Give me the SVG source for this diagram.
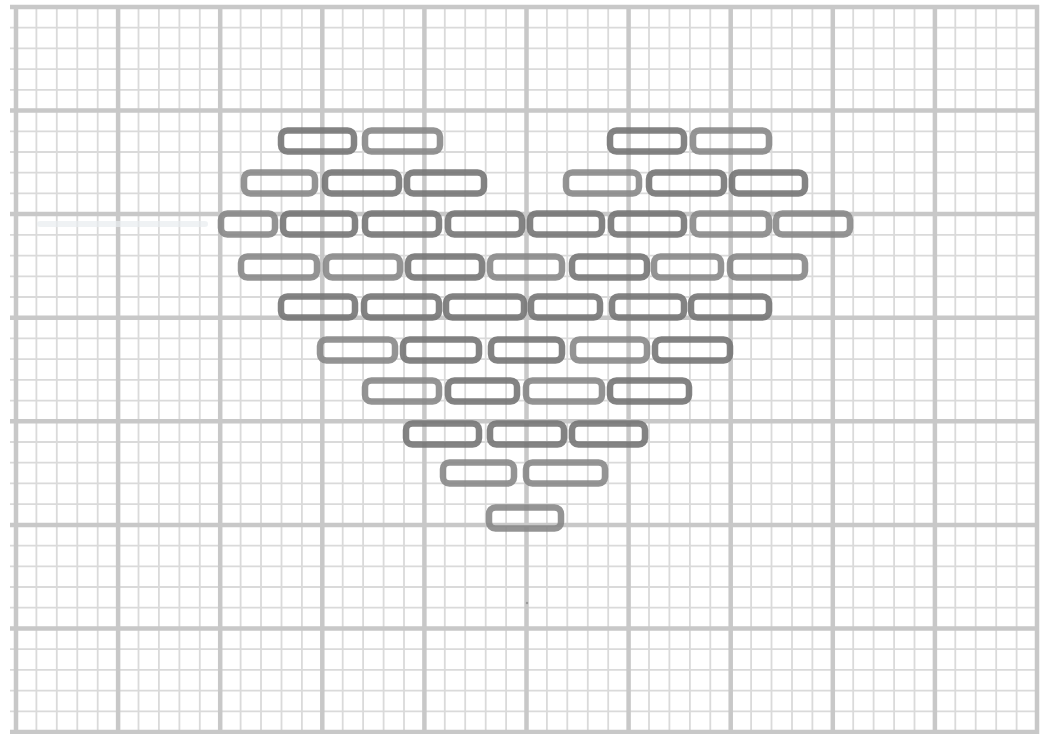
<svg xmlns="http://www.w3.org/2000/svg" width="1046" height="734" viewBox="0 0 1046 734">
<style>
.minor{fill:none;stroke:#dadada;stroke-width:1.8}
.major{fill:none;stroke:#c8c8c8;stroke-width:4.5}
.st{fill:none;stroke:#727272;stroke-width:6.5;stroke-opacity:0.88}
.st2{fill:none;stroke:#858585;stroke-width:6.5;stroke-opacity:0.88}
</style>
<rect width="1046" height="734" fill="#ffffff"/>
<g id="grid">
<path class="minor" d="M36.4 5V734M56.8 5V734M77.3 5V734M97.7 5V734M138.5 5V734M158.9 5V734M179.4 5V734M199.8 5V734M240.6 5V734M261 5V734M281.5 5V734M301.9 5V734M342.7 5V734M363.1 5V734M383.6 5V734M404 5V734M444.8 5V734M465.2 5V734M485.7 5V734M506.1 5V734M546.9 5V734M567.3 5V734M587.8 5V734M608.2 5V734M649 5V734M669.4 5V734M689.9 5V734M710.3 5V734M751.1 5V734M771.5 5V734M792 5V734M812.4 5V734M853.2 5V734M873.6 5V734M894.1 5V734M914.5 5V734M955.3 5V734M975.7 5V734M996.2 5V734M1016.6 5V734
M10 27.7H1039M10 48.4H1039M10 69.1H1039M10 89.9H1039M10 131.3H1039M10 152H1039M10 172.7H1039M10 193.4H1039M10 234.9H1039M10 255.6H1039M10 276.3H1039M10 297H1039M10 338.4H1039M10 359.1H1039M10 379.9H1039M10 400.6H1039M10 442H1039M10 462.7H1039M10 483.4H1039M10 504.1H1039M10 545.6H1039M10 566.3H1039M10 587H1039M10 607.7H1039M10 649.1H1039M10 669.9H1039M10 690.6H1039M10 711.3H1039"/>
<path class="major" d="M16 5V734M118.1 5V734M220.2 5V734M322.3 5V734M424.4 5V734M526.5 5V734M628.6 5V734M730.7 5V734M832.8 5V734M934.9 5V734M1037 5V734
M10 7H1039M10 110.6H1039M10 214.1H1039M10 317.7H1039M10 421.3H1039M10 524.9H1039M10 628.4H1039M10 732H1039"/>
<path d="M40 224H205" stroke="#e8ecef" stroke-width="6" fill="none" stroke-linecap="round" opacity="0.7"/>
<circle cx="527" cy="603" r="1.2" fill="#999"/>
</g>
<g id="heart">
<g id="row1">
<rect class="st" x="281" y="130.5" width="73" height="21" rx="6.5"/>
<rect class="st2" x="365" y="130.5" width="75" height="21" rx="6.5"/>
<rect class="st" x="610" y="130.5" width="74" height="21" rx="6.5"/>
<rect class="st2" x="693" y="130.5" width="76" height="21" rx="6.5"/>
</g>
<g id="row2">
<rect class="st2" x="244" y="172.5" width="71" height="21" rx="6.5"/>
<rect class="st" x="325" y="172.5" width="74" height="21" rx="6.5"/>
<rect class="st" x="407" y="172.5" width="77" height="21" rx="6.5"/>
<rect class="st2" x="566" y="172.5" width="73" height="21" rx="6.5"/>
<rect class="st" x="649" y="172.5" width="75" height="21" rx="6.5"/>
<rect class="st" x="732" y="172.5" width="73" height="21" rx="6.5"/>
</g>
<g id="row3">
<rect class="st2" x="221" y="213.5" width="54" height="21" rx="6.5"/>
<rect class="st" x="283" y="213.5" width="72" height="21" rx="6.5"/>
<rect class="st" x="365" y="213.5" width="74" height="21" rx="6.5"/>
<rect class="st" x="448" y="213.5" width="74" height="21" rx="6.5"/>
<rect class="st" x="530" y="213.5" width="72" height="21" rx="6.5"/>
<rect class="st" x="611" y="213.5" width="73" height="21" rx="6.5"/>
<rect class="st2" x="693" y="213.5" width="76" height="21" rx="6.5"/>
<rect class="st2" x="776" y="213.5" width="74" height="21" rx="6.5"/>
</g>
<g id="row4">
<rect class="st2" x="241" y="256.5" width="76" height="21" rx="6.5"/>
<rect class="st2" x="326" y="256.5" width="74" height="21" rx="6.5"/>
<rect class="st" x="408" y="256.5" width="74" height="21" rx="6.5"/>
<rect class="st2" x="490" y="256.5" width="72" height="21" rx="6.5"/>
<rect class="st" x="572" y="256.5" width="75" height="21" rx="6.5"/>
<rect class="st2" x="654" y="256.5" width="67" height="21" rx="6.5"/>
<rect class="st2" x="730" y="256.5" width="75" height="21" rx="6.5"/>
</g>
<g id="row5">
<rect class="st" x="281" y="296.5" width="74" height="21" rx="6.5"/>
<rect class="st" x="364" y="296.5" width="75" height="21" rx="6.5"/>
<rect class="st" x="446" y="296.5" width="78" height="21" rx="6.5"/>
<rect class="st" x="531" y="296.5" width="69" height="21" rx="6.5"/>
<rect class="st" x="612" y="296.5" width="72" height="21" rx="6.5"/>
<rect class="st" x="691" y="296.5" width="78" height="21" rx="6.5"/>
</g>
<g id="row6">
<rect class="st2" x="320" y="339.5" width="75" height="21" rx="6.5"/>
<rect class="st" x="403" y="339.5" width="76" height="21" rx="6.5"/>
<rect class="st" x="491" y="339.5" width="71" height="21" rx="6.5"/>
<rect class="st2" x="573" y="339.5" width="74" height="21" rx="6.5"/>
<rect class="st" x="655" y="339.5" width="75" height="21" rx="6.5"/>
</g>
<g id="row7">
<rect class="st2" x="365" y="380.5" width="74" height="21" rx="6.5"/>
<rect class="st" x="448" y="380.5" width="69" height="21" rx="6.5"/>
<rect class="st2" x="526" y="380.5" width="76" height="21" rx="6.5"/>
<rect class="st" x="610" y="380.5" width="79" height="21" rx="6.5"/>
</g>
<g id="row8">
<rect class="st" x="406" y="423.5" width="73" height="21" rx="6.5"/>
<rect class="st" x="490" y="423.5" width="74" height="21" rx="6.5"/>
<rect class="st" x="572" y="423.5" width="73" height="21" rx="6.5"/>
</g>
<g id="row9">
<rect class="st2" x="443" y="462.5" width="71" height="21" rx="6.5"/>
<rect class="st2" x="526" y="462.5" width="79" height="21" rx="6.5"/>
</g>
<g id="row10">
<rect class="st2" x="489" y="507.5" width="72" height="21" rx="6.5"/>
</g>
</g>
</svg>
